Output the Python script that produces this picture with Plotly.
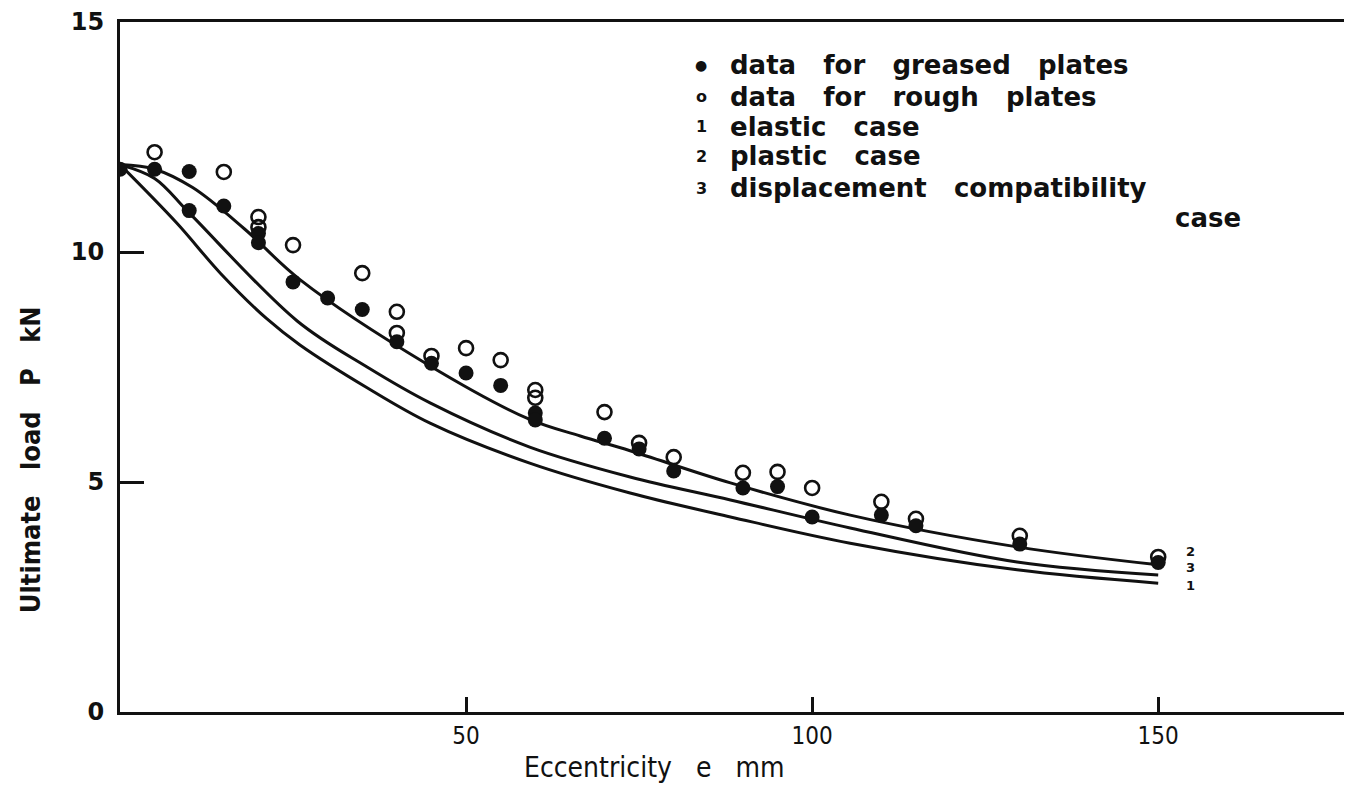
import plotly.graph_objects as go

# ---- data ----
greased_e = [0, 5, 10, 10, 15, 20, 20, 25, 30, 35, 40, 45, 50, 55, 60, 60,
             70, 75, 80, 90, 95, 100, 110, 115, 130, 150]
greased_p = [11.8, 11.8, 11.75, 10.9, 11.0, 10.4, 10.2, 9.35, 9.0, 8.75, 8.05,
             7.58, 7.37, 7.1, 6.5, 6.35, 5.95, 5.72, 5.24, 4.87, 4.9, 4.24,
             4.28, 4.05, 3.65, 3.25]

rough_e = [5, 15, 20, 20, 25, 35, 40, 40, 45, 50, 55, 60, 60, 70, 75, 80,
           90, 95, 100, 110, 115, 130, 150]
rough_p = [12.17, 11.74, 10.76, 10.54, 10.15, 9.54, 8.7, 8.24, 7.74, 7.91,
           7.65, 7.0, 6.83, 6.52, 5.85, 5.54, 5.2, 5.22, 4.87, 4.57, 4.2,
           3.83, 3.37]

# curve 2: plastic case
plastic_e = [0, 5, 10.5, 18, 26, 44.5, 59.2, 66.5, 73.7, 88.2, 105.5, 129.6, 150]
plastic_p = [11.9, 11.8, 11.4, 10.5, 9.4, 7.55, 6.36, 6.0, 5.68, 4.98, 4.28, 3.59, 3.2]

# curve 3: displacement compatibility case
compat_e = [0, 5, 10, 25.6, 35.7, 44.8, 59.2, 73.7, 88.2, 105.5, 129.6, 150]
compat_p = [11.9, 11.6, 10.85, 8.5, 7.5, 6.72, 5.76, 5.11, 4.61, 4.0, 3.26, 2.98]

# curve 1: elastic case
elastic_e = [0, 8.2, 14.5, 21.2, 26, 35.7, 44.8, 59.2, 73.7, 88.2, 105.5, 129.6, 150]
elastic_p = [11.9, 10.63, 9.54, 8.55, 7.98, 7.05, 6.28, 5.41, 4.76, 4.24, 3.67, 3.09, 2.8]

x_ticks = [50, 100, 150]
y_ticks = [0, 5, 10, 15]

NB = "\u00a0"
GAP = NB * 3
legend_lines = [
    ("\u25CF", GAP.join(["data", "for", "greased", "plates"])),
    ("o", GAP.join(["data", "for", "rough", "plates"])),
    ("1", GAP.join(["elastic", "case"])),
    ("2", GAP.join(["plastic", "case"])),
    ("3", GAP.join(["displacement", "compatibility"])),
]
legend_tail = "case"
curve_labels = ["2", "3", "1"]
x_title = GAP.join(["Eccentricity", "e", "mm"])
y_title = GAP.join(["Ultimate", "load", "P", "kN"])

BLACK = "#111111"
FONT = "DejaVu Sans"
COND = "DejaVu Sans Condensed, DejaVu Sans"

fig = go.Figure()

for e, p in [(plastic_e, plastic_p), (compat_e, compat_p), (elastic_e, elastic_p)]:
    fig.add_trace(go.Scatter(x=e, y=p, mode="lines",
                             line=dict(color=BLACK, width=3, shape="spline", smoothing=1.0),
                             showlegend=False, hoverinfo="skip"))

fig.add_trace(go.Scatter(x=rough_e, y=rough_p, mode="markers",
                         marker=dict(symbol="circle-open", size=14, color=BLACK,
                                     line=dict(width=2.6, color=BLACK)),
                         showlegend=False))
fig.add_trace(go.Scatter(x=greased_e, y=greased_p, mode="markers",
                         marker=dict(symbol="circle", size=15, color=BLACK),
                         showlegend=False))

# legend block (text annotations)
legend_y = [14.07, 13.37, 12.72, 12.08, 11.39]
for (sym, txt), yy in zip(legend_lines, legend_y):
    fig.add_annotation(x=84.0, y=yy, text=sym, showarrow=False, xanchor="center",
                       font=dict(family=FONT, size=16 if sym != "\u25CF" else 14,
                                 color=BLACK, weight="bold"))
    fig.add_annotation(x=87.8, y=yy, text=txt, showarrow=False, xanchor="left",
                       font=dict(family=FONT, size=26, color=BLACK, weight="bold"))
fig.add_annotation(x=152.2, y=10.74, text=legend_tail, showarrow=False, xanchor="left",
                   font=dict(family=FONT, size=26, color=BLACK, weight="bold"))

# curve end labels
for lab, yy in zip(curve_labels, [3.48, 3.15, 2.74]):
    fig.add_annotation(x=154.6, y=yy, text=lab, showarrow=False, xanchor="center",
                       font=dict(family=FONT, size=13, color=BLACK, weight="bold"))

# axis titles
fig.add_annotation(xref="paper", yref="paper", x=0.434, y=-0.081, text=x_title,
                   showarrow=False, xanchor="center", yanchor="middle",
                   font=dict(family=COND, size=28, color=BLACK))
fig.add_annotation(xref="paper", yref="paper", x=-0.073, y=0.365, text=y_title,
                   showarrow=False, xanchor="center", yanchor="middle", textangle=-90,
                   font=dict(family=COND, size=27, color=BLACK, weight="bold"))

fig.update_layout(
    width=1344, height=777,
    margin=dict(l=112, r=0, t=14, b=73),
    paper_bgcolor="white", plot_bgcolor="white",
    showlegend=False,
    xaxis=dict(range=[0, 178], tickvals=x_ticks, ticktext=[str(v) for v in x_ticks],
               ticks="inside", ticklen=15, tickwidth=2.5, tickcolor=BLACK,
               showline=True, linewidth=3, linecolor=BLACK, mirror=True,
               showgrid=False, zeroline=False, automargin=False,
               tickfont=dict(family=COND, size=24, color=BLACK)),
    yaxis=dict(range=[0, 15], tickvals=y_ticks, ticktext=[str(v) for v in y_ticks],
               ticks="inside", ticklen=24, tickwidth=2.5, tickcolor=BLACK,
               showline=True, linewidth=3, linecolor=BLACK,
               showgrid=False, zeroline=False, ticklabelstandoff=8, automargin=False,
               tickfont=dict(family=FONT, size=24, color=BLACK, weight="bold")),
)

fig.write_html("out.html")
